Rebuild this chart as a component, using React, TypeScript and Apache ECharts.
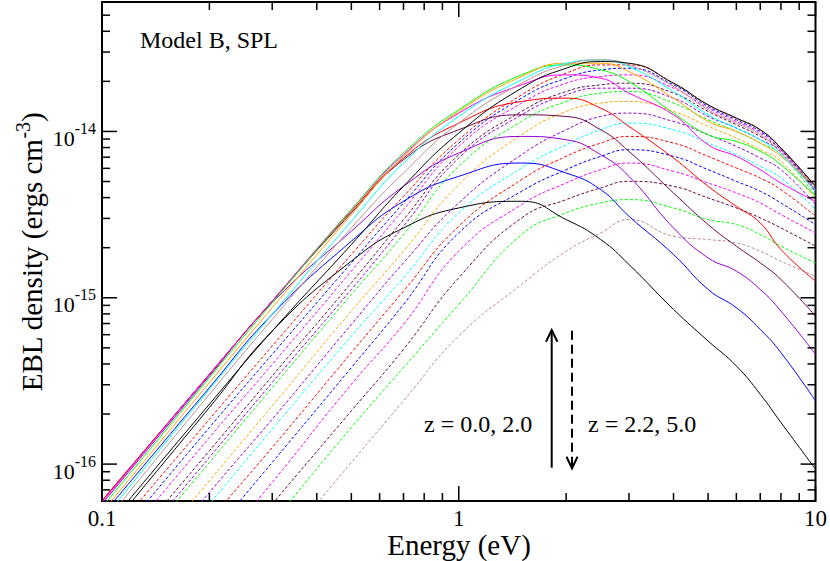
import React, { useEffect, useRef } from 'react';
import * as echarts from 'echarts';

// Photon energy grid (eV)
const energyEv = [0.1, 0.2, 0.3, 0.5, 0.7, 1, 1.5, 2, 2.5, 3, 4, 5, 6, 7, 8, 10];

// log10 of EBL density (ergs cm^-3). Solid curves: z = 0.0 ... 2.0
const solid_z0_0 = [-16.44, -15.66, -15.20, -14.78, -14.58, -14.46, -14.42, -14.53, -14.65, -14.80, -15.07, -15.26, -15.41, -15.58, -15.75, -16.03];
const solid_z0_2 = [-16.31, -15.54, -15.10, -14.66, -14.42, -14.27, -14.19, -14.25, -14.35, -14.51, -14.74, -14.95, -15.06, -15.19, -15.33, -15.62];
const solid_z0_4 = [-16.24, -15.47, -15.03, -14.60, -14.33, -14.13, -14.03, -14.05, -14.14, -14.27, -14.58, -14.76, -14.84, -14.95, -15.08, -15.34];
const solid_z0_6 = [-16.22, -15.46, -15.02, -14.49, -14.17, -13.99, -13.90, -13.91, -13.99, -14.12, -14.37, -14.56, -14.69, -14.79, -14.89, -15.11];
const solid_z0_8 = [-16.22, -15.46, -15.02, -14.48, -14.16, -13.95, -13.82, -13.80, -13.86, -13.97, -14.16, -14.33, -14.45, -14.55, -14.71, -14.90];
const solid_z1_0 = [-16.23, -15.46, -15.02, -14.47, -14.14, -13.89, -13.72, -13.66, -13.68, -13.77, -13.90, -14.08, -14.15, -14.23, -14.31, -14.42];
const solid_z1_2 = [-16.26, -15.48, -15.03, -14.47, -14.13, -13.87, -13.66, -13.60, -13.63, -13.70, -13.89, -14.02, -14.06, -14.12, -14.20, -14.39];
const solid_z1_4 = [-16.29, -15.51, -15.06, -14.50, -14.15, -13.88, -13.67, -13.59, -13.59, -13.64, -13.80, -13.94, -14.00, -14.07, -14.15, -14.33];
const solid_z1_6 = [-16.34, -15.55, -15.10, -14.54, -14.19, -13.91, -13.69, -13.59, -13.57, -13.61, -13.76, -13.90, -13.98, -14.05, -14.14, -14.36];
const solid_z1_8 = [-16.37, -15.58, -15.13, -14.58, -14.25, -13.95, -13.71, -13.60, -13.57, -13.60, -13.73, -13.87, -13.95, -14.02, -14.13, -14.35];
const solid_z2_0 = [-16.41, -15.64, -15.20, -14.68, -14.33, -14.01, -13.74, -13.62, -13.58, -13.59, -13.71, -13.84, -13.92, -13.99, -14.10, -14.33];

// Dashed curves: z = 2.2 ... 5.0
const dashed_z2_2 = [-16.49, -15.73, -15.29, -14.74, -14.39, -14.05, -13.78, -13.65, -13.60, -13.60, -13.71, -13.84, -13.92, -13.99, -14.10, -14.33];
const dashed_z2_4 = [-16.55, -15.78, -15.34, -14.79, -14.43, -14.07, -13.80, -13.68, -13.63, -13.62, -13.72, -13.85, -13.93, -14.00, -14.10, -14.34];
const dashed_z2_6 = [-16.61, -15.84, -15.40, -14.84, -14.47, -14.09, -13.83, -13.71, -13.67, -13.66, -13.74, -13.86, -13.94, -14.01, -14.11, -14.35];
const dashed_z2_8 = [-16.68, -15.92, -15.47, -14.91, -14.53, -14.14, -13.88, -13.76, -13.72, -13.71, -13.77, -13.88, -13.96, -14.03, -14.11, -14.36];
const dashed_z3_0 = [-16.73, -15.96, -15.51, -14.95, -14.57, -14.16, -13.90, -13.78, -13.74, -13.74, -13.80, -13.91, -13.98, -14.05, -14.12, -14.37];
const dashed_z3_2 = [-16.76, -15.99, -15.54, -14.98, -14.62, -14.21, -13.94, -13.82, -13.77, -13.76, -13.83, -13.93, -14.00, -14.07, -14.14, -14.39];
const dashed_z3_4 = [-16.87, -16.10, -15.65, -15.08, -14.72, -14.32, -14.02, -13.88, -13.83, -13.82, -13.88, -13.97, -14.04, -14.11, -14.18, -14.41];
const dashed_z3_6 = [-16.94, -16.17, -15.73, -15.16, -14.79, -14.43, -14.14, -13.99, -13.91, -13.89, -13.94, -14.02, -14.09, -14.16, -14.23, -14.44];
const dashed_z3_8 = [-17.01, -16.24, -15.79, -15.23, -14.88, -14.49, -14.22, -14.08, -13.99, -13.95, -13.99, -14.07, -14.14, -14.21, -14.28, -14.47];
const dashed_z4_0 = [-17.11, -16.34, -15.90, -15.33, -14.96, -14.57, -14.29, -14.15, -14.07, -14.03, -14.07, -14.15, -14.22, -14.28, -14.35, -14.51];
const dashed_z4_2 = [-17.21, -16.44, -15.99, -15.42, -15.04, -14.61, -14.36, -14.23, -14.15, -14.11, -14.15, -14.23, -14.30, -14.36, -14.43, -14.56];
const dashed_z4_4 = [-17.33, -16.56, -16.11, -15.52, -15.16, -14.72, -14.44, -14.31, -14.23, -14.19, -14.24, -14.31, -14.37, -14.43, -14.50, -14.61];
const dashed_z4_6 = [-17.46, -16.69, -16.24, -15.68, -15.31, -14.88, -14.52, -14.41, -14.34, -14.30, -14.33, -14.40, -14.46, -14.52, -14.58, -14.69];
const dashed_z4_8 = [-17.56, -16.79, -16.35, -15.78, -15.42, -15.04, -14.62, -14.49, -14.43, -14.41, -14.46, -14.53, -14.56, -14.62, -14.69, -14.79];
const dashed_z5_0 = [-17.78, -17.01, -16.56, -15.99, -15.62, -15.23, -14.92, -14.72, -14.61, -14.53, -14.63, -14.65, -14.67, -14.72, -14.78, -14.87];

const solidRedshifts = ['0.0', '0.2', '0.4', '0.6', '0.8', '1.0', '1.2', '1.4', '1.6', '1.8', '2.0'];
const solidCurves = [solid_z0_0, solid_z0_2, solid_z0_4, solid_z0_6, solid_z0_8, solid_z1_0, solid_z1_2, solid_z1_4, solid_z1_6, solid_z1_8, solid_z2_0];
const dashedRedshifts = ['2.2', '2.4', '2.6', '2.8', '3.0', '3.2', '3.4', '3.6', '3.8', '4.0', '4.2', '4.4', '4.6', '4.8', '5.0'];
const dashedCurves = [dashed_z2_2, dashed_z2_4, dashed_z2_6, dashed_z2_8, dashed_z3_0, dashed_z3_2, dashed_z3_4, dashed_z3_6, dashed_z3_8, dashed_z4_0, dashed_z4_2, dashed_z4_4, dashed_z4_6, dashed_z4_8, dashed_z5_0];

// Axis ranges and tick values
const X_MIN = 0.1;
const X_MAX = 10;
const Y_MIN = 6e-17;
const Y_MAX = 6e-14;
const xMajorTicks = [0.1, 1, 10];
const xMinorTicks = [0.2, 0.3, 0.4, 0.5, 0.6, 0.7, 0.8, 0.9, 2, 3, 4, 5, 6, 7, 8, 9];
const yMajorTicks = [1e-16, 1e-15, 1e-14];
const yMinorTicks = [7e-17, 8e-17, 9e-17, 2e-16, 3e-16, 4e-16, 5e-16, 6e-16, 7e-16, 8e-16, 9e-16, 2e-15, 3e-15, 4e-15, 5e-15, 6e-15, 7e-15, 8e-15, 9e-15, 2e-14, 3e-14, 4e-14, 5e-14];

// Styles (Grace palette)
const BLACK = '#000000';
const RED = '#ff0000';
const GREEN = '#00ff00';
const BLUE = '#0000ff';
const ROSY = '#bc8f8f';
const VIOLET = '#9400d3';
const CYAN = '#00ffff';
const MAGENTA = '#ff00ff';
const ORANGE = '#ffa500';
const MAROON = '#670748';
const solidColors = [BLACK, BLUE, VIOLET, MAROON, RED, MAGENTA, GREEN, ORANGE, CYAN, ROSY, BLACK];
const dashedColors = [RED, BLUE, MAGENTA, MAROON, VIOLET, GREEN, ORANGE, VIOLET, CYAN, RED, BLUE, MAGENTA, MAROON, GREEN, ROSY];

const SERIF = 'Liberation Serif';
const fontOf = (size: number) => size + "px 'Liberation Serif'";

function buildOption(): any {
  const series: any[] = [];
  solidCurves.forEach((logs, i) => {
    series.push({
      name: 'z = ' + solidRedshifts[i],
      type: 'line',
      data: energyEv.map((e, k) => [e, Math.pow(10, logs[k])]),
      symbol: 'none',
      showSymbol: false,
      smooth: 0.5,
      silent: true,
      lineStyle: { color: solidColors[i], width: 1, type: 'solid' },
      z: 3,
    });
  });
  dashedCurves.forEach((logs, i) => {
    series.push({
      name: 'z = ' + dashedRedshifts[i],
      type: 'line',
      data: energyEv.map((e, k) => [e, Math.pow(10, logs[k])]),
      symbol: 'none',
      showSymbol: false,
      smooth: 0.5,
      silent: true,
      lineStyle: { color: dashedColors[i], width: 1, type: [3, 2] },
      z: 2,
    });
  });

  const tickStyle = { stroke: '#000', lineWidth: 1.5 };
  const xTickSeries = (values: number[], major: boolean) => ({
    type: 'custom',
    silent: true,
    z: 10,
    data: values.map((v) => [v, Y_MIN]),
    renderItem: (params: any, api: any) => {
      const v = api.value(0);
      const len = major ? 15 : 8;
      const b = api.coord([v, Y_MIN]);
      const t = api.coord([v, Y_MAX]);
      return {
        type: 'group',
        children: [
          { type: 'line', shape: { x1: b[0], y1: b[1], x2: b[0], y2: b[1] - len }, style: tickStyle },
          { type: 'line', shape: { x1: t[0], y1: t[1], x2: t[0], y2: t[1] + len }, style: tickStyle },
        ],
      };
    },
  });
  const yTickSeries = (values: number[], major: boolean) => ({
    type: 'custom',
    silent: true,
    z: 10,
    data: values.map((v) => [X_MIN, v]),
    renderItem: (params: any, api: any) => {
      const v = api.value(1);
      const len = major ? 15 : 8;
      const l = api.coord([X_MIN, v]);
      const r = api.coord([X_MAX, v]);
      return {
        type: 'group',
        children: [
          { type: 'line', shape: { x1: l[0], y1: l[1], x2: l[0] + len, y2: l[1] }, style: tickStyle },
          { type: 'line', shape: { x1: r[0], y1: r[1], x2: r[0] - len, y2: r[1] }, style: tickStyle },
        ],
      };
    },
  });
  series.push(xTickSeries(xMajorTicks, true));
  series.push(xTickSeries(xMinorTicks, false));
  series.push(yTickSeries(yMajorTicks, true));
  series.push(yTickSeries(yMinorTicks, false));

  const txt = (text: string, x: number, y: number, size: number, align: string = 'left') => ({
    type: 'text',
    x,
    y,
    silent: true,
    z: 20,
    style: {
      text,
      fill: '#000',
      font: fontOf(size),
      align,
      verticalAlign: 'middle',
    },
  });

  return {
    animation: false,
    backgroundColor: '#ffffff',
    textStyle: { fontFamily: SERIF },
    grid: {
      left: 102,
      right: 14,
      top: 2,
      bottom: 60,
      show: true,
      borderColor: '#000',
      borderWidth: 2,
      backgroundColor: 'transparent',
    },
    xAxis: {
      type: 'log',
      logBase: 10,
      min: X_MIN,
      max: X_MAX,
      axisLine: { show: false },
      axisTick: { show: false },
      minorTick: { show: false },
      splitLine: { show: false },
      axisLabel: {
        margin: 6,
        fontSize: 23,
        color: '#000',
        fontFamily: SERIF,
        formatter: (v: number) => {
          const e = Math.log10(v);
          const r = Math.round(e);
          if (Math.abs(e - r) > 1e-6) return '';
          return r === -1 ? '0.1' : String(Math.pow(10, r));
        },
      },
    },
    yAxis: {
      type: 'log',
      logBase: 10,
      min: Y_MIN,
      max: Y_MAX,
      axisLine: { show: false },
      axisTick: { show: false },
      minorTick: { show: false },
      splitLine: { show: false },
      axisLabel: {
        margin: 6,
        color: '#000',
        fontFamily: SERIF,
        padding: [7, 0, 0, 0],
        formatter: (v: number) => {
          const e = Math.log10(v);
          const r = Math.round(e);
          if (Math.abs(e - r) > 1e-6) return '';
          return '{b|10}{s|' + r + '}';
        },
        rich: {
          b: { fontSize: 22, fontFamily: SERIF, color: '#000', verticalAlign: 'bottom' },
          s: { fontSize: 16, fontFamily: SERIF, color: '#000', verticalAlign: 'bottom', padding: [0, 0, 13, 0] },
        },
      },
    },
    graphic: [
      txt('Model B, SPL', 140, 40, 24),
      txt('z = 0.0, 2.0', 424, 423.5, 24),
      txt('z = 2.2, 5.0', 588, 423.5, 24),
      txt('Energy (eV)', 459, 545, 29, 'center'),
      {
        type: 'text',
        x: 29.5,
        y: 252,
        rotation: Math.PI / 2,
        silent: true,
        z: 20,
        style: {
          text: '{a|EBL density (ergs cm}{s|-3}{a|)}',
          align: 'center',
          verticalAlign: 'middle',
          fill: '#000',
          font: fontOf(29),
          rich: {
            a: { fontSize: 29, fontFamily: SERIF, fill: '#000', verticalAlign: 'bottom' },
            s: { fontSize: 20, fontFamily: SERIF, fill: '#000', verticalAlign: 'bottom', padding: [0, 0, 14, 0] },
          },
        },
      },
      // z-direction arrows
      { type: 'line', silent: true, z: 20, shape: { x1: 551.7, y1: 467.7, x2: 551.7, y2: 331 }, style: { stroke: '#000', lineWidth: 2 } },
      { type: 'polyline', silent: true, z: 20, shape: { points: [[546, 341.7], [551.7, 330], [557.4, 341.7]] }, style: { stroke: '#000', lineWidth: 2, fill: null } },
      { type: 'line', silent: true, z: 20, shape: { x1: 572, y1: 330.7, x2: 572, y2: 467 }, style: { stroke: '#000', lineWidth: 2, lineDash: [9, 5] } },
      { type: 'polyline', silent: true, z: 20, shape: { points: [[566.5, 456.7], [572, 468.3], [577.5, 456.7]] }, style: { stroke: '#000', lineWidth: 2, fill: null } },
    ],
    series,
  };
}

export default function App() {
  const ref = useRef<HTMLDivElement>(null);
  useEffect(() => {
    if (!ref.current) return;
    const chart = echarts.init(ref.current, undefined, { renderer: 'svg' });
    chart.setOption(buildOption());
    return () => chart.dispose();
  }, []);
  return (
    <div
      ref={ref}
      style={{ position: 'fixed', left: 0, top: 0, width: 830, height: 561, background: '#fff' }}
    />
  );
}
